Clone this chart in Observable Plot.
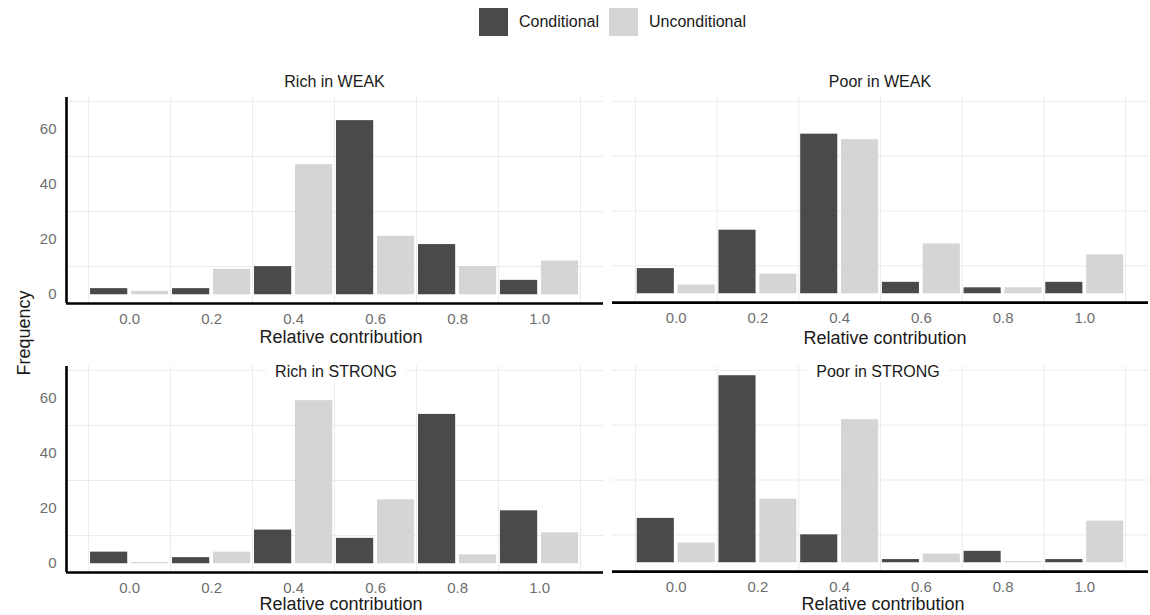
<!DOCTYPE html>
<html>
<head>
<meta charset="utf-8">
<script src="https://cdn.jsdelivr.net/npm/d3@7"></script>
<script src="https://cdn.jsdelivr.net/npm/@observablehq/plot@0.6"></script>
<style>
  body { margin: 0; background: #fff; font-family: "Liberation Sans", Arial, sans-serif; }
  #root { position: relative; width: 1150px; height: 615px; overflow: hidden; background: #fff; }
  .panel { position: absolute; }
  .title { position: absolute; transform: translate(-50%, -50%); background: #fff; padding: 1px 9px;
           font-size: 16px; line-height: 18px; color: #1a1a1a; white-space: nowrap; }
  .xlab { position: absolute; transform: translate(-50%, -50%); font-size: 18px; line-height: 20px;
          color: #1a1a1a; white-space: nowrap; }
  .ylab { position: absolute; transform: translate(-50%, -50%) rotate(-90deg); font-size: 18px;
          line-height: 20px; color: #1a1a1a; white-space: nowrap; }
  .sw { position: absolute; width: 29px; height: 28px; }
  .lt { position: absolute; font-size: 16px; line-height: 18px; color: #1a1a1a; transform: translateY(-50%); white-space: nowrap; }
</style>
</head>
<body>
<div id="root"></div>
<script>
// ---- data ----
const bins = [0, 0.2, 0.4, 0.6, 0.8, 1.0];
const series = ["Conditional", "Unconditional"];
const seriesColors = ["#4a4a4a", "#d5d5d5"];
const panelTitles = ["Rich in WEAK", "Poor in WEAK", "Rich in STRONG", "Poor in STRONG"];
const richWeakCond     = [2, 2, 10, 63, 18, 5];
const richWeakUncond   = [1, 9, 47, 21, 10, 12];
const poorWeakCond     = [9, 23, 58, 4, 2, 4];
const poorWeakUncond   = [3, 7, 56, 18, 2, 14];
const richStrongCond   = [4, 2, 12, 9, 54, 19];
const richStrongUncond = [0, 4, 59, 23, 3, 11];
const poorStrongCond   = [16, 68, 10, 1, 4, 1];
const poorStrongUncond = [7, 23, 52, 3, 0, 15];
const xTicks = [0, 0.2, 0.4, 0.6, 0.8, 1.0];
const yTicks = [0, 20, 40, 60];
const xGrid = [-0.1, 0.1, 0.3, 0.5, 0.7, 0.9, 1.1];
const yGrid = [10, 30, 50, 70];
const binWidth = 0.2;
const yDomain = [-3.4, 71.4];
const xDomainLeft = [-0.154, 1.156];
const xDomainRight = [-0.156, 1.156];
const xLabel = "Relative contribution";
const yLabel = "Frequency";

const root = document.getElementById("root");

function makePanel(cond, uncond, showY, xDomain, width) {
  const half = binWidth / 2;
  const data = bins.flatMap((b, i) => [
    {x1: b - half, x2: b, count: cond[i], type: series[0]},
    {x1: b, x2: b + half, count: uncond[i], type: series[1]}
  ]);
  return Plot.plot({
    width: width,
    height: 280,
    marginLeft: showY ? 66 : 2,
    marginRight: 2,
    marginTop: 27,
    marginBottom: 47,
    x: {domain: xDomain, axis: null},
    y: {domain: yDomain, axis: null},
    color: {domain: series, range: seriesColors},
    style: {fontFamily: '"Liberation Sans", Arial, sans-serif', fontSize: "15px", color: "#6e6e6e", background: "transparent", overflow: "visible"},
    marks: [
      Plot.gridX(xGrid, {stroke: "#ebebeb", strokeOpacity: 1, strokeWidth: 1}),
      Plot.gridY(yGrid, {stroke: "#ebebeb", strokeOpacity: 1, strokeWidth: 1}),
      Plot.ruleY(data, {x1: "x1", x2: "x2", y: 0, dy: -0.6, stroke: "type", strokeWidth: 1.3, insetLeft: 1.9, insetRight: 1.9}),
      Plot.rect(data, {x1: "x1", x2: "x2", y1: 0, y2: "count", fill: "type", insetLeft: 1.9, insetRight: 1.9}),
      Plot.axisX(xTicks, {tickSize: 0, tickPadding: 10, tickFormat: d3.format(".1f"), label: null, fontSize: 15}),
      showY ? Plot.axisY(yTicks, {tickSize: 0, tickPadding: 10, label: null, fontSize: 15}) : null,
      Plot.ruleY([yDomain[0]], {stroke: "#000", strokeWidth: 2.6}),
      showY ? Plot.ruleX([xDomain[0]], {stroke: "#000", strokeWidth: 2.6}) : null
    ]
  });
}

const panels = [
  {cond: richWeakCond, uncond: richWeakUncond, left: 0, top: 70, showY: true, dom: xDomainLeft, w: 605},
  {cond: poorWeakCond, uncond: poorWeakUncond, left: 610, top: 70, showY: false, dom: xDomainRight, w: 542},
  {cond: richStrongCond, uncond: richStrongUncond, left: 0, top: 339, showY: true, dom: xDomainLeft, w: 605},
  {cond: poorStrongCond, uncond: poorStrongUncond, left: 610, top: 339, showY: false, dom: xDomainRight, w: 542}
];
const titlePos = [[334.5, 82], [880, 82], [336, 372], [878, 372]];
const xLabPos = [[341, 337], [885, 338], [341, 604], [883, 604]];

panels.forEach((p, i) => {
  const svg = makePanel(p.cond, p.uncond, p.showY, p.dom, p.w);
  const wrap = document.createElement("div");
  wrap.className = "panel";
  wrap.style.left = p.left + "px";
  wrap.style.top = p.top + "px";
  wrap.appendChild(svg);
  root.appendChild(wrap);

  const xl = document.createElement("div");
  xl.className = "xlab";
  xl.textContent = xLabel;
  xl.style.left = xLabPos[i][0] + "px";
  xl.style.top = xLabPos[i][1] + "px";
  root.appendChild(xl);
});

panelTitles.forEach((t, i) => {
  const d = document.createElement("div");
  d.className = "title";
  d.textContent = t;
  d.style.left = titlePos[i][0] + "px";
  d.style.top = titlePos[i][1] + "px";
  root.appendChild(d);
});

const yl = document.createElement("div");
yl.className = "ylab";
yl.textContent = yLabel;
yl.style.left = "24px";
yl.style.top = "333px";
root.appendChild(yl);

// legend
const legendPos = [[479, 519], [609, 649]];
series.forEach((s, i) => {
  const sw = document.createElement("div");
  sw.className = "sw";
  sw.style.left = legendPos[i][0] + "px";
  sw.style.top = "8px";
  sw.style.background = seriesColors[i];
  root.appendChild(sw);
  const lt = document.createElement("div");
  lt.className = "lt";
  lt.textContent = s;
  lt.style.left = legendPos[i][1] + "px";
  lt.style.top = "22px";
  root.appendChild(lt);
});
</script>
</body>
</html>
